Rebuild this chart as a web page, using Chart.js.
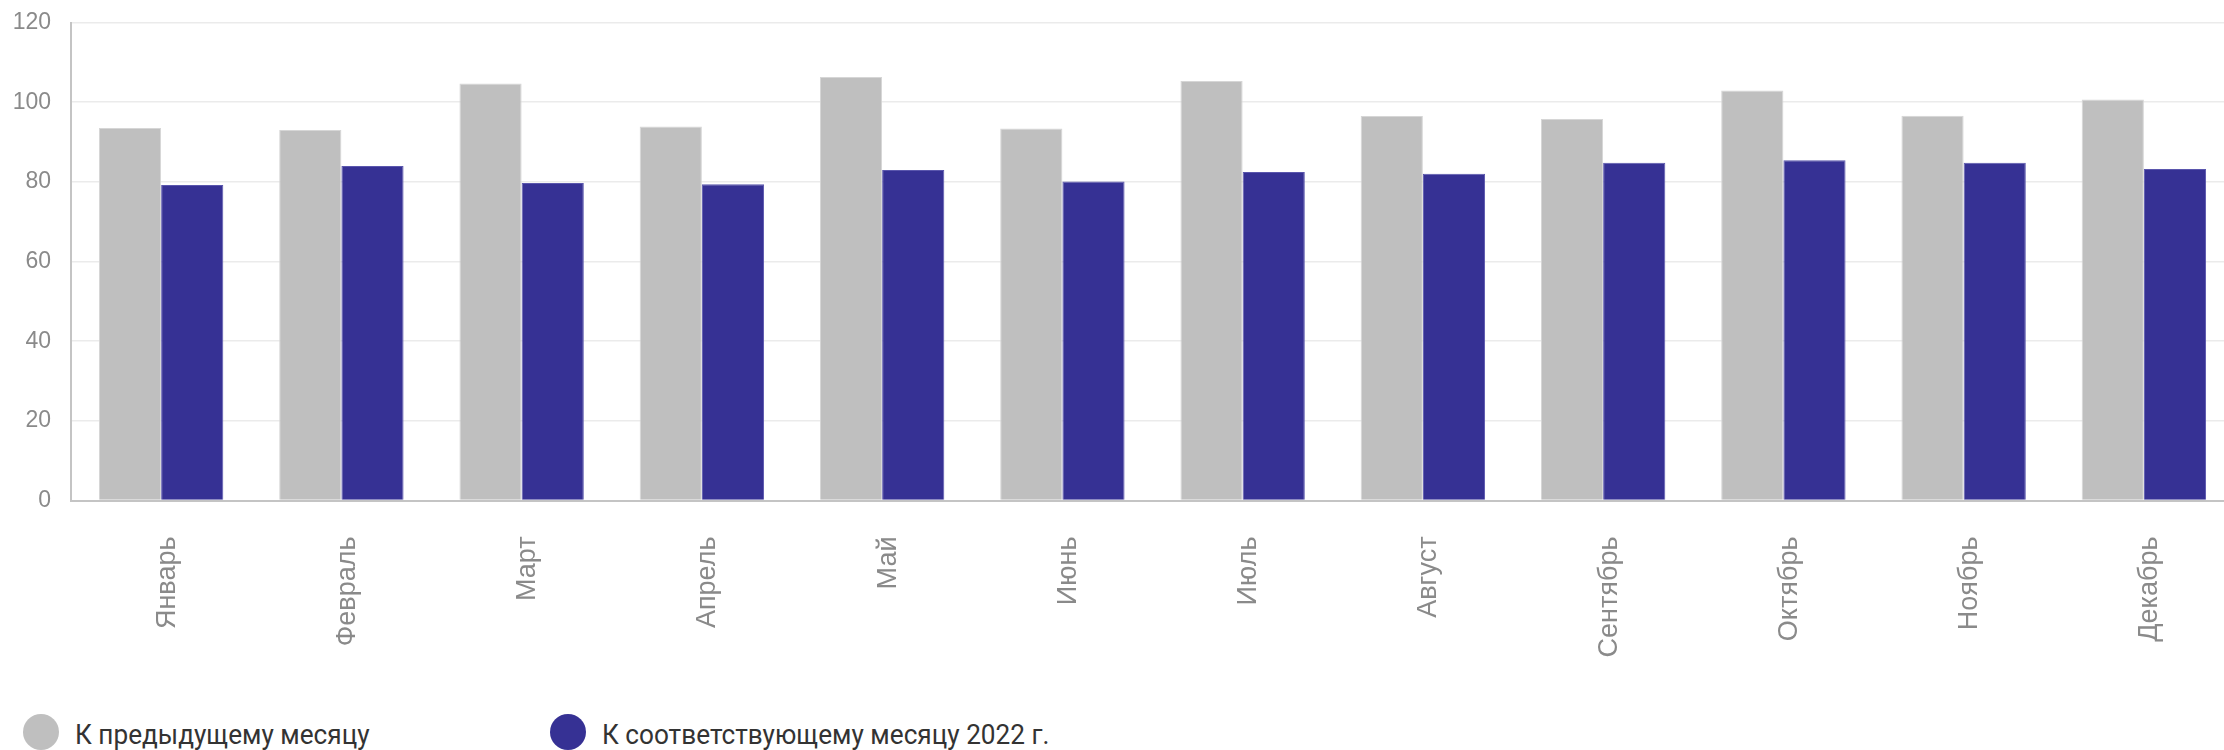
<!DOCTYPE html>
<html>
<head>
<meta charset="utf-8">
<script src="https://cdn.jsdelivr.net/npm/chart.js@4.4.1/dist/chart.umd.min.js"></script>
<style>
  html, body { margin: 0; padding: 0; background: #fff; overflow: hidden; width: 2224px; height: 750px; }
  #wrap { position: absolute; left: 0; top: 0; width: 2234px; height: 700px; }
  #legend { position: absolute; left: 0; top: 714px; height: 36px; width: 2224px; font-family: Roboto, sans-serif; font-size: 28px; color: #333; }
  .item { position: absolute; top: 0; height: 36px; }
  .dot { position: absolute; top: 0; width: 36px; height: 36px; border-radius: 50%; }
  .txt { position: absolute; top: 3px; line-height: 36px; white-space: nowrap; transform: scaleX(0.935); transform-origin: 0 50%; }
</style>
</head>
<body>
<div id="wrap"><canvas id="c"></canvas></div>
<div id="legend"></div>
<script>
const categories = ['Январь','Февраль','Март','Апрель','Май','Июнь','Июль','Август','Сентябрь','Октябрь','Ноябрь','Декабрь'];
const seriesNames = ['К предыдущему месяцу','К соответствующему месяцу 2022 г.'];
const prevMonth = [93.5, 93.0, 104.7, 93.9, 106.3, 93.4, 105.3, 96.5, 95.8, 102.9, 96.6, 100.7];
const sameMonth2022 = [79.2, 84.0, 79.7, 79.4, 83.0, 80.1, 82.5, 82.0, 84.8, 85.4, 84.8, 83.2];
const yTicks = [0, 20, 40, 60, 80, 100, 120];
const colors = ['#bfbfbf', '#363194'];
const borderColors = ['#d6d6d6', '#5a56ad'];

const ctx = document.getElementById('c');
const chart = new Chart(ctx, {
  type: 'bar',
  data: {
    labels: categories,
    datasets: [
      { label: seriesNames[0], data: prevMonth, backgroundColor: colors[0], borderColor: borderColors[0], borderWidth: 1 },
      { label: seriesNames[1], data: sameMonth2022, backgroundColor: colors[1], borderColor: borderColors[1], borderWidth: 1 }
    ]
  },
  options: {
    responsive: true,
    maintainAspectRatio: false,
    animation: false,
    events: [],
    layout: { padding: { top: 22.5, left: 0, right: 0, bottom: 0 } },
    plugins: { legend: { display: false }, tooltip: { enabled: false } },
    datasets: { bar: { categoryPercentage: 0.69, barPercentage: 1.0 } },
    scales: {
      x: {
        grid: { display: false, drawTicks: false },
        border: { display: true, color: '#c4c4c4', width: 2 },
        afterFit: (s) => { s.height = 199.5; },
        ticks: {
          autoSkip: false, maxRotation: 90, minRotation: 90, padding: 36, labelOffset: 6,
          color: '#8a8a8a', font: { family: 'Liberation Sans', size: 27 }
        }
      },
      y: {
        min: 0, max: 120,
        afterFit: (s) => { s.width = 71; s.paddingTop = 0; s.paddingBottom = 0; },
        afterBuildTicks: (s) => { s.ticks = yTicks.map(v => ({ value: v })); },
        grid: { color: '#ebebeb', lineWidth: 1.5, drawTicks: false },
        border: { display: true, color: '#c4c4c4', width: 2 },
        ticks: { padding: 20, color: '#8a8a8a', font: { family: 'Liberation Sans', size: 23 } }
      }
    }
  }
});

// HTML legend built from the dataset names/colours
const legend = document.getElementById('legend');
const itemLeft = [23, 550];
seriesNames.forEach((name, i) => {
  const it = document.createElement('div');
  it.className = 'item';
  it.style.left = itemLeft[i] + 'px';
  const dot = document.createElement('div');
  dot.className = 'dot';
  dot.style.background = colors[i];
  const t = document.createElement('div');
  t.className = 'txt';
  t.style.left = '52px';
  t.textContent = name;
  it.appendChild(dot); it.appendChild(t);
  legend.appendChild(it);
});
</script>
</body>
</html>
